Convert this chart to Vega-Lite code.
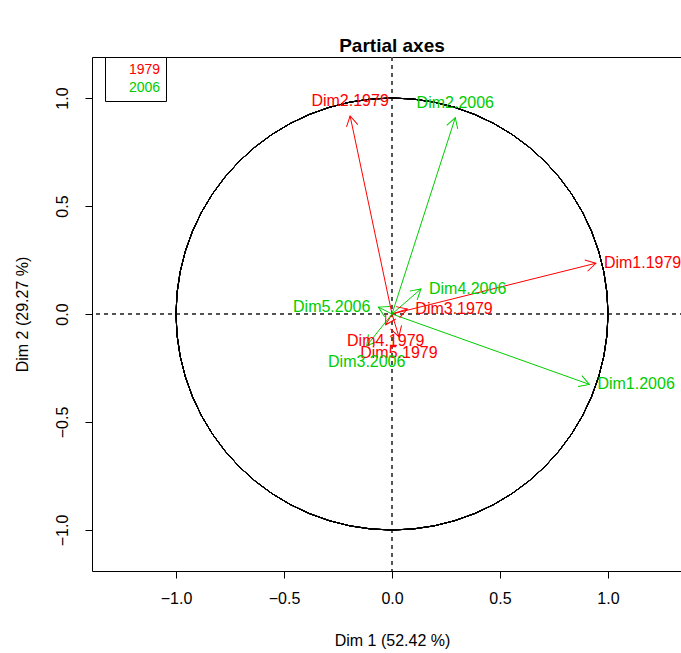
{
  "$schema": "https://vega.github.io/schema/vega-lite/v6.json",
  "autosize": {"type": "none"},
  "padding": {"left": 92, "top": 57, "right": 0, "bottom": 82},
  "width": 600,
  "height": 514,
  "title": {"text": "Partial axes", "fontSize": 19, "fontWeight": "bold", "font": "Liberation Sans", "color": "black", "offset": 1, "anchor": "middle"},
  "config": {
    "font": "Liberation Sans",
    "view": {"stroke": "black", "strokeWidth": 1},
    "axis": {"domain": false, "grid": false, "tickColor": "black", "tickSize": 7, "labelColor": "black", "labelFontSize": 16, "titleFontSize": 16, "titleFontWeight": "normal", "titleColor": "black", "labelFont": "Liberation Sans", "titleFont": "Liberation Sans"}
  },
  "data": {"values": [
    {"label": "Dim1.1979", "group": "1979", "x": 0.944, "y": 0.235},
    {"label": "Dim2.1979", "group": "1979", "x": -0.194, "y": 0.917},
    {"label": "Dim3.1979", "group": "1979", "x": 0.071, "y": 0.023},
    {"label": "Dim4.1979", "group": "1979", "x": -0.029, "y": -0.05},
    {"label": "Dim5.1979", "group": "1979", "x": 0.032, "y": -0.105},
    {"label": "Dim1.2006", "group": "2006", "x": 0.914, "y": -0.326},
    {"label": "Dim2.2006", "group": "2006", "x": 0.293, "y": 0.909},
    {"label": "Dim3.2006", "group": "2006", "x": -0.117, "y": -0.147},
    {"label": "Dim4.2006", "group": "2006", "x": 0.134, "y": 0.116},
    {"label": "Dim5.2006", "group": "2006", "x": -0.063, "y": 0.032}
  ]},
  "encoding": {
    "x": {"field": "x", "type": "quantitative", "scale": {"domain": [-1.389, 1.389], "nice": false, "zero": false},
      "axis": {"values": [-1, -0.5, 0, 0.5, 1], "format": ".1f", "labelPadding": 12, "title": "Dim 1 (52.42 %)", "titlePadding": 26}},
    "y": {"field": "y", "type": "quantitative", "scale": {"domain": [-1.19, 1.19], "nice": false, "zero": false},
      "axis": {"values": [-1, -0.5, 0, 0.5, 1], "format": ".1f", "labelAngle": -90, "labelAlign": "center", "labelBaseline": "bottom", "labelPadding": 15, "title": "Dim 2 (29.27 %)", "titlePadding": 24}}
  },
  "layer": [
    {"mark": {"type": "rule", "color": "#555555", "strokeDash": [4, 4], "strokeWidth": 1}, "encoding": {"x": {"datum": 0}, "y": null}},
    {"mark": {"type": "rule", "color": "#555555", "strokeDash": [4, 4], "strokeWidth": 1}, "encoding": {"y": {"datum": 0}, "x": null}},
    {"mark": {"type": "point", "shape": "circle", "filled": false, "stroke": "black", "strokeWidth": 1, "size": 186624, "opacity": 1}, "encoding": {"x": {"datum": 0}, "y": {"datum": 0}}},
    {"mark": {"type": "rule", "strokeWidth": 1},
      "encoding": {"x2": {"datum": 0}, "y2": {"datum": 0},
        "color": {"field": "group", "type": "nominal", "scale": {"domain": ["1979", "2006"], "range": ["#FF0000", "#00CD00"]},
          "legend": {"title": null, "orient": "none", "legendX": 13, "legendY": 0, "strokeColor": "black", "padding": 5, "symbolSize": 256, "symbolOpacity": 0, "symbolStrokeWidth": 0, "labelFontSize": 14, "labelOffset": 3, "rowPadding": 2, "labelFont": "Liberation Sans",
            "encode": {"labels": {"update": {"fill": {"scale": "color", "field": "value"}}}}}}}},
    {"transform": [{"calculate": "atan2(-datum.y, datum.x) * 180 / PI", "as": "ang"}],
      "mark": {"type": "point", "shape": "M -1 -0.577 L 0 0 L -1 0.577", "filled": false, "size": 400, "strokeWidth": 1, "opacity": 1},
      "encoding": {"color": {"field": "group", "type": "nominal"}, "angle": {"field": "ang", "type": "quantitative", "scale": null}}},
    {"transform": [{"filter": "abs(datum.x) >= abs(datum.y) && datum.x > 0"}],
      "mark": {"type": "text", "align": "left", "baseline": "middle", "dx": 8, "fontSize": 16},
      "encoding": {"text": {"field": "label"}, "color": {"field": "group", "type": "nominal"}}},
    {"transform": [{"filter": "abs(datum.x) >= abs(datum.y) && datum.x < 0"}],
      "mark": {"type": "text", "align": "right", "baseline": "middle", "dx": -8, "fontSize": 16},
      "encoding": {"text": {"field": "label"}, "color": {"field": "group", "type": "nominal"}}},
    {"transform": [{"filter": "abs(datum.y) > abs(datum.x) && datum.y > 0"}],
      "mark": {"type": "text", "align": "center", "baseline": "middle", "dy": -15, "fontSize": 16},
      "encoding": {"text": {"field": "label"}, "color": {"field": "group", "type": "nominal"}}},
    {"transform": [{"filter": "abs(datum.y) > abs(datum.x) && datum.y < 0"}],
      "mark": {"type": "text", "align": "center", "baseline": "middle", "dy": 16, "fontSize": 16},
      "encoding": {"text": {"field": "label"}, "color": {"field": "group", "type": "nominal"}}}
  ]
}
